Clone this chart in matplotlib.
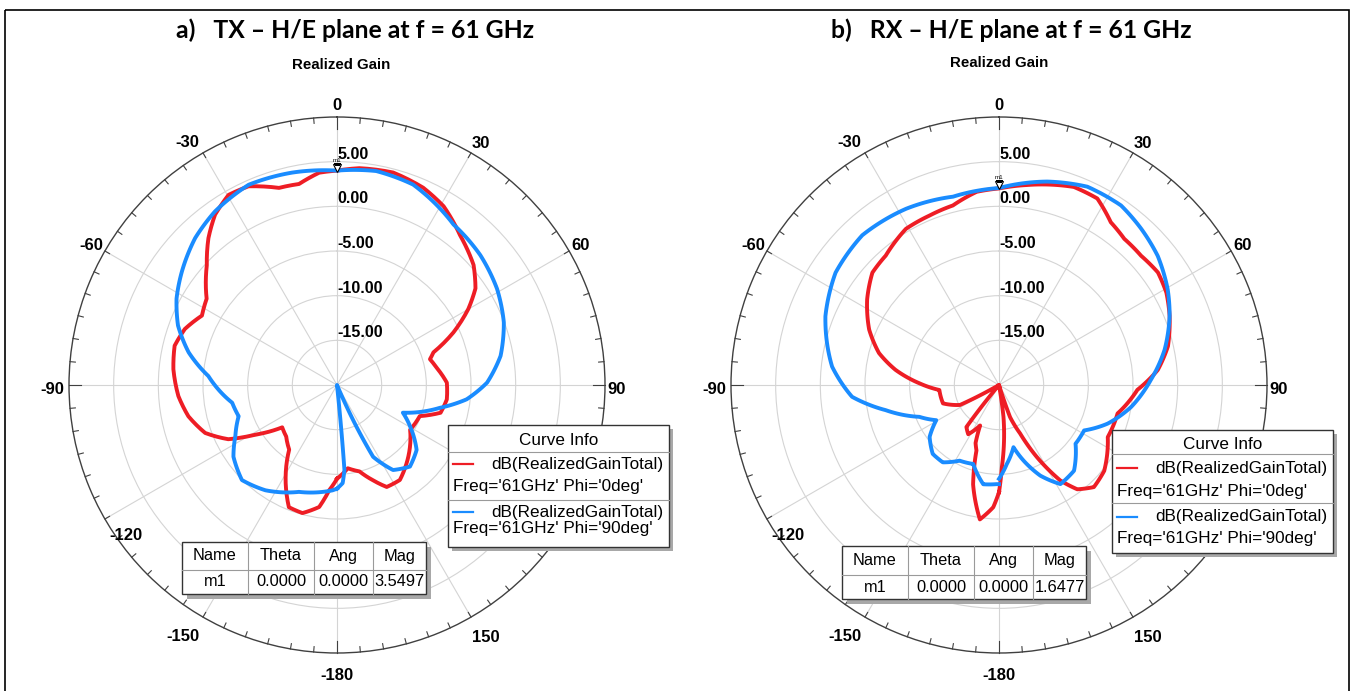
import numpy as np
import matplotlib.pyplot as plt
from matplotlib.patches import Rectangle

plt.rcParams['font.family'] = ['Liberation Sans', 'DejaVu Sans']

# --- Data (theta in deg, realized gain in dB) ---
tx_phi0_theta = [-180, -175.8, -171.7, -164.9, -158.5, -152.4, -143.5, -135.4, -127.7, -121.3,
                 -116.5, -110, -101.9, -94, -84.5, -76.4, -69.8, -62.8, -56.5, -47.4,
                 -41.2, -35.6, -29.7, -24, -16.4, -10.7, -4.8, 0, 5.9, 14.8,
                 23.6, 30.8, 39.4, 48.7, 55.1, 59.9, 65.7, 71.3, 74.5, 80,
                 88.8, 97.5, 105, 110.6, 121.5, 135, 146.5, 154, 159.3, 165.4,
                 172.6, 180]
tx_phi0_gain = [-9.5, -8.2, -6.2, -5.15, -5.3, -7.6, -11.0, -11.9, -12.25, -9.3,
                -6.4, -4.3, -3.0, -2.2, -1.6, -1.3, -1.85, -3.0, -2.5, -0.2,
                1.85, 3.45, 4.5, 4.35, 3.0, 2.9, 3.85, 4.0, 4.4, 4.6,
                4.1, 3.3, 1.7, 0.35, -1.1, -3.0, -5.7, -8.6, -9.2, -8.7,
                -7.7, -7.6, -8.0, -10.1, -10.4, -8.7, -7.25, -7.3, -8.6, -10.0,
                -10.6, -9.5]

tx_phi90_theta = [-180, -177.6, -160.4, -145.8, -135, -124.7, -116.8, -107.6, -99.6, -86,
                  -77.6, -69.5, -61.7, -53.9, -44, -35.1, -23.8, -11.9, 0, 10.4,
                  20.8, 36, 47.8, 59, 69.4, 79.9, 89.1, 96.3, 102.5, 112.8,
                  119.5, 129.2, 138.2, 146.6, 153.3, 155, 157, 174, 175, 176.7,
                  180]
tx_phi90_gain = [-8.4, -8.2, -7.3, -5.75, -4.95, -5.9, -7.25, -8.45, -8.1, -5.56,
                 -3.0, -1.0, 0.4, 1.5, 2.86, 3.75, 4.5, 4.3, 4.0, 4.35,
                 4.0, 2.2, 1.65, 0.9, -0.05, -1.4, -3.2, -5.4, -8.2, -12.0,
                 -10.6, -8.5, -7.75, -8.6, -11.0, -14.9, -20, -20, -10.45, -9.0,
                 -8.4]

rx_phi0_theta = [-180, -177.3, -171.9, -165.4, -161, -158, -155, -148, -142.2, -140,
                 -120, -117.1, -108.2, -94.8, -88.8, -81.7, -75.1, -66.9, -57, -48.4,
                 -41.2, -30.8, -22.3, -14.4, -6.6, 0, 7.9, 20.7, 27.8, 34.5,
                 40.6, 47.7, 54.7, 61.1, 68, 77.1, 84.6, 92, 103.5, 115.6,
                 129.2, 137.1, 143.1, 147.3, 152.3, 156.5, 161, 163, 170, 172,
                 178, 180]
rx_phi0_gain = [-8.0, -6.3, -4.8, -8.5, -12.25, -13.0, -15.0, -13.5, -14.05, -20,
                -20, -15.1, -13.4, -13.3, -11.1, -8.3, -6.1, -4.2, -2.4, -1.05,
                -0.75, 0.35, 0.5, 0.75, 1.77, 2.0, 2.6, 3.7, 3.6, 2.1,
                1.55, 1.5, 1.8, 1.4, 0.6, -0.6, -2.15, -4.5, -6.35, -6.5,
                -4.8, -4.4, -5.4, -7.3, -10.9, -14.1, -16.2, -20, -20, -16.4,
                -10.8, -8.0]

rx_phi90_theta = [-180, -178.6, -171, -161.9, -152.5, -144, -136.1, -126.8, -119.3, -111.8,
                  -102.5, -94.6, -83.7, -68.4, -55.5, -42.4, -27.8, -13.7, -5.6, 0,
                  13.3, 24, 34.2, 42.3, 50.9, 60.5, 68, 78, 88.1, 99.4,
                  109.6, 118.1, 127.5, 138.8, 148.2, 155.5, 162, 166.9, 174.4, 180]
rx_phi90_gain = [-8.9, -8.9, -8.75, -10.7, -10.45, -9.3, -9.3, -10.3, -11.95, -10.4,
                 -7.0, -3.5, -1.2, 0.9, 2.2, 2.7, 2.3, 1.7, 1.9, 2.05,
                 3.4, 4.3, 4.3, 3.65, 2.9, 1.7, 0.6, -1.05, -3.0, -5.0,
                 -7.1, -9.2, -9.2, -7.25, -6.95, -8.85, -11.1, -12.85, -11.1, -9.5]

tx_m1_mag = 3.5497
rx_m1_mag = 1.6477
r_ticks = [-15, -10, -5, 0, 5]
theta_labels = ['0', '30', '60', '90', '120', '150', '-180', '-150', '-120', '-90', '-60', '-30']
legend_lines = ["dB(RealizedGainTotal)", "Freq='61GHz' Phi='0deg'", "Freq='61GHz' Phi='90deg'"]
table_cols = ['Name', 'Theta', 'Ang', 'Mag']

RED = '#ee1d25'
BLUE = '#1a8cff'
W, H = 1355, 691
R_PX = 268

# where HFSS puts the angle labels: (direction in deg, distance from centre in px)
label_spots = [(0, 279), (30.7, 281), (60.2, 281), (91, 280), (125.6, 259), (149.4, 293),
               (180, 291), (-148.6, 295), (-125.6, 259), (-91, 285), (-60.4, 283), (-31.8, 285)]

fig = plt.figure(figsize=(W / 100, H / 100), dpi=100)


def px_to_r(p):
    return -20 + 30 * p / R_PX


def polar_panel(cx, cy, t0, g0, t90, g90, m1):
    ax = fig.add_axes([(cx - R_PX) / W, (H - cy - R_PX) / H, 2 * R_PX / W, 2 * R_PX / H],
                      projection='polar')
    ax.set_theta_zero_location('N')
    ax.set_theta_direction(-1)
    ax.set_rlim(-20, 10)
    ax.set_rticks(r_ticks)
    ax.set_yticklabels([])
    ax.set_thetagrids(range(0, 360, 30), labels=[''] * 12)
    ax.grid(color='#d4d4d4', lw=0.8)
    ax.spines['polar'].set_color('#404040')
    ax.spines['polar'].set_linewidth(1.0)

    # outer ring ticks every 5 deg
    for a in range(0, 360, 5):
        L = 1.35 if a % 90 == 0 else 0.6
        ax.plot([np.radians(a)] * 2, [10, 10 - L], color='#404040', lw=0.8, clip_on=False)

    # angle labels
    for (a, d), lab in zip(label_spots, theta_labels):
        ax.text(np.radians(a), px_to_r(d), lab, ha='center', va='center', fontsize=12,
                fontweight='bold', clip_on=False)

    # radial labels
    for v in r_ticks:
        ax.text(0, v, f'{v:.2f}', ha='left', va='bottom', fontsize=11.5,
                fontweight='bold', zorder=3)

    for t, g, col, z in ((t0, g0, RED, 4), (t90, g90, BLUE, 5)):
        ln, = ax.plot(np.radians(t), g, color=col, lw=2.8, zorder=z,
                      solid_joinstyle='round')
        ln.get_path()._interpolation_steps = 12

    # marker m1
    ax.plot(0, m1 + 0.7, marker='v', ms=6, mfc='white', mec='black', mew=0.8, zorder=6)
    ax.text(0, m1 + 1.3, 'm1', fontsize=4.5, ha='center', va='bottom', zorder=6)
    return ax


polar_panel(337, 385, tx_phi0_theta, tx_phi0_gain, tx_phi90_theta, tx_phi90_gain, tx_m1_mag)
polar_panel(999, 385, rx_phi0_theta, rx_phi0_gain, rx_phi90_theta, rx_phi90_gain, rx_m1_mag)

# overlay in pixel coordinates for titles, legends and marker tables
ov = fig.add_axes([0, 0, 1, 1])
ov.set_xlim(0, W)
ov.set_ylim(H, 0)
ov.axis('off')
ov.patch.set_alpha(0)

ov.add_patch(Rectangle((5, 10), 1344, 700, fill=False, ec='black', lw=1.2))

ov.text(355, 30, 'a)   TX – H/E plane at f = 61 GHz', ha='center', va='center',
        fontsize=17.8, fontweight='bold', family='Lato')
ov.text(1011, 30, 'b)   RX – H/E plane at f = 61 GHz', ha='center', va='center',
        fontsize=17.8, fontweight='bold', family='Lato')
ov.text(341, 65, 'Realized Gain', ha='center', va='center', fontsize=10.8, fontweight='bold')
ov.text(999, 63, 'Realized Gain', ha='center', va='center', fontsize=10.8, fontweight='bold')


def curve_info(x0, y0, x1, y1, ys):
    # ys: header, sep1, line1, freq1, sep2, line2, freq2
    ov.add_patch(Rectangle((x0 + 4, y0 + 4), x1 - x0, y1 - y0, fc='#a8a8a8', ec='none'))
    ov.add_patch(Rectangle((x0, y0), x1 - x0, y1 - y0, fc='white', ec='#333333', lw=1))
    hy, s1, l1, f1, s2, l2, f2 = ys
    ov.text((x0 + x1) / 2, hy, 'Curve Info', ha='center', va='center', fontsize=12.3)
    for s in (s1, s2):
        ov.plot([x0, x1], [s, s], color='#9a9a9a', lw=0.8)
    for ly, fy, col, ftxt in ((l1, f1, RED, legend_lines[1]), (l2, f2, BLUE, legend_lines[2])):
        ov.plot([x0 + 5, x0 + 25], [ly, ly], color=col, lw=1.6)
        ov.text(x1 - 6, ly, legend_lines[0], ha='right', va='center', fontsize=12.3)
        ov.text(x0 + 5, fy, ftxt, ha='left', va='center', fontsize=12.3)


curve_info(448, 425, 669, 547, (440, 452, 464, 486, 500, 512, 528))
curve_info(1112, 430, 1333, 553, (444, 454, 468, 491, 503, 517, 538))


def marker_table(x0, y0, y1, y2, cols_x, mag):
    x1 = cols_x[-1]
    ov.add_patch(Rectangle((x0 + 5, y0 + 5), x1 - x0, y2 - y0, fc='#a8a8a8', ec='none'))
    ov.add_patch(Rectangle((x0, y0), x1 - x0, y2 - y0, fc='white', ec='#333333', lw=1))
    ov.plot([x0, x1], [y1, y1], color='#9a9a9a', lw=0.8)
    edges = [x0] + cols_x
    for xc in cols_x[:-1]:
        ov.plot([xc, xc], [y0, y2], color='#9a9a9a', lw=0.8)
    vals = ['m1', '0.0000', '0.0000', f'{mag:.4f}']
    for i in range(4):
        xm = (edges[i] + edges[i + 1]) / 2
        ov.text(xm, (y0 + y1) / 2, table_cols[i], ha='center', va='center', fontsize=11.8)
        ov.text(xm, (y1 + y2) / 2, vals[i], ha='center', va='center', fontsize=11.8)


marker_table(182, 542, 570, 594, [248, 314, 373, 426], tx_m1_mag)
marker_table(842, 546, 575, 599, [908, 974, 1033, 1086], rx_m1_mag)

fig.savefig('out.png', dpi=100)
